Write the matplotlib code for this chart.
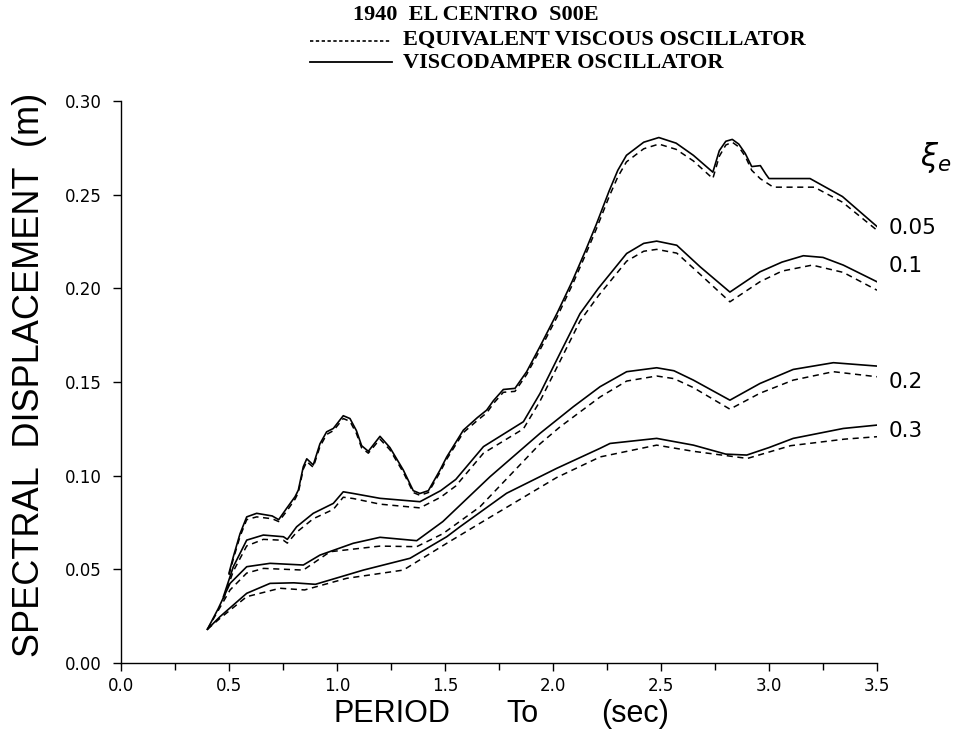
"""Spectral displacement vs period, El Centro 1940 S00E, viscodamper vs equivalent viscous."""

import matplotlib
matplotlib.use("Agg")
import matplotlib.pyplot as plt
from matplotlib.lines import Line2D
from matplotlib.ticker import MultipleLocator, FormatStrFormatter

plt.rcParams["font.family"] = ["Liberation Sans", "DejaVu Sans"]
plt.rcParams["mathtext.fontset"] = "dejavusans"

W, H = 966, 736

# --- xi_e = 0.05 ---
t_vd05 = [0.50, 0.52, 0.551, 0.582, 0.628, 0.70, 0.73, 0.767, 0.806, 0.821, 0.844, 0.86, 0.89,
          0.921, 0.952, 0.983, 1.029, 1.06, 1.09, 1.114, 1.145, 1.199, 1.245, 1.307, 1.353,
          1.384, 1.423, 1.477, 1.508, 1.585, 1.65, 1.693, 1.724, 1.77, 1.824, 1.878, 1.94,
          2.02, 2.09, 2.15, 2.20, 2.26, 2.30, 2.34, 2.42, 2.49, 2.57, 2.65, 2.74, 2.77, 2.80,
          2.83, 2.86, 2.89, 2.92, 2.96, 2.985, 3.00, 3.19, 3.34, 3.50]
sd_vd05 = [0.048, 0.0567, 0.069, 0.078, 0.0799, 0.0785, 0.0765, 0.0826, 0.0888, 0.0923, 0.1048,
           0.109, 0.1057, 0.117, 0.1234, 0.1252, 0.132, 0.1305, 0.124, 0.116, 0.113, 0.121,
           0.115, 0.103, 0.092, 0.0905, 0.092, 0.103, 0.110, 0.1243, 0.131, 0.135, 0.140,
           0.146, 0.1466, 0.1555, 0.169, 0.187, 0.204, 0.220, 0.234, 0.252, 0.263, 0.271,
           0.278, 0.2805, 0.2775, 0.271, 0.262, 0.2735, 0.2785, 0.2795, 0.277, 0.272, 0.265,
           0.2655, 0.261, 0.2586, 0.2586, 0.249, 0.233]
t_ev05 = [0.50, 0.52, 0.551, 0.582, 0.628, 0.70, 0.73, 0.767, 0.806, 0.821, 0.844, 0.86, 0.89,
          0.921, 0.952, 0.983, 1.029, 1.06, 1.09, 1.114, 1.145, 1.199, 1.245, 1.307, 1.353,
          1.384, 1.423, 1.477, 1.508, 1.585, 1.65, 1.693, 1.724, 1.77, 1.824, 1.878, 1.94,
          2.02, 2.09, 2.15, 2.20, 2.26, 2.30, 2.34, 2.42, 2.49, 2.57, 2.65, 2.74, 2.77, 2.80,
          2.83, 2.86, 2.89, 2.92, 2.96, 3.02, 3.21, 3.34, 3.50]
sd_ev05 = [0.047, 0.0555, 0.0675, 0.0765, 0.078, 0.077, 0.0755, 0.081, 0.0875, 0.091, 0.1035,
           0.1075, 0.1045, 0.1155, 0.122, 0.124, 0.1305, 0.129, 0.1225, 0.1148, 0.112, 0.1195,
           0.1138, 0.1018, 0.091, 0.0895, 0.091, 0.1018, 0.1088, 0.123, 0.1295, 0.1335, 0.1385,
           0.1445, 0.145, 0.154, 0.1672, 0.185, 0.202, 0.2178, 0.2315, 0.249, 0.2595, 0.2675,
           0.2745, 0.277, 0.2742, 0.268, 0.2586, 0.2705, 0.2765, 0.278, 0.2755, 0.2705, 0.263,
           0.2585, 0.254, 0.254, 0.246, 0.231]

# --- xi_e = 0.1 ---
t_vd10 = [0.474, 0.52, 0.582, 0.659, 0.752, 0.77, 0.813, 0.89, 0.983, 1.029, 1.075, 1.199,
          1.384, 1.48, 1.55, 1.678, 1.863, 1.94, 2.032, 2.125, 2.21, 2.341, 2.42, 2.48, 2.573,
          2.681, 2.819, 2.958, 3.06, 3.159, 3.25, 3.344, 3.50]
sd_vd10 = [0.0354, 0.0514, 0.0656, 0.0683, 0.0674, 0.066, 0.0727, 0.0799, 0.0852, 0.0914,
           0.0905, 0.0879, 0.0861, 0.092, 0.098, 0.1155, 0.1288, 0.1439, 0.1652, 0.1865, 0.200,
           0.2186, 0.224, 0.2252, 0.223, 0.2115, 0.198, 0.2088, 0.214, 0.2174, 0.2165, 0.2124,
           0.2035]
t_ev10 = [0.474, 0.52, 0.582, 0.659, 0.752, 0.77, 0.813, 0.89, 0.983, 1.029, 1.075, 1.199,
          1.384, 1.48, 1.55, 1.678, 1.863, 1.94, 2.032, 2.125, 2.21, 2.341, 2.42, 2.48, 2.573,
          2.681, 2.819, 2.958, 3.06, 3.20, 3.344, 3.50]
sd_ev10 = [0.034, 0.049, 0.0625, 0.066, 0.0655, 0.064, 0.0698, 0.077, 0.082, 0.0885, 0.0878,
           0.0848, 0.0828, 0.0885, 0.0945, 0.112, 0.125, 0.1398, 0.161, 0.1825, 0.196, 0.2145,
           0.2198, 0.2208, 0.2188, 0.2075, 0.1928, 0.2035, 0.2092, 0.2124, 0.2085, 0.199]

# --- xi_e = 0.2 ---
t_vd20 = [0.40, 0.45, 0.505, 0.582, 0.69, 0.844, 0.921, 1.075, 1.199, 1.369, 1.49, 1.708,
          1.94, 2.094, 2.218, 2.341, 2.48, 2.56, 2.65, 2.819, 2.958, 3.112, 3.298, 3.50]
sd_vd20 = [0.018, 0.029, 0.0425, 0.0514, 0.0532, 0.0523, 0.0576, 0.0639, 0.0671, 0.0653,
           0.0755, 0.0994, 0.1226, 0.1368, 0.1475, 0.1555, 0.1576, 0.156, 0.151, 0.1403,
           0.1492, 0.1567, 0.1603, 0.1585]
t_ev20 = [0.40, 0.45, 0.505, 0.582, 0.66, 0.844, 0.968, 1.199, 1.369, 1.49, 1.662, 1.94,
          2.032, 2.218, 2.341, 2.48, 2.56, 2.65, 2.819, 2.958, 3.112, 3.298, 3.50]
sd_ev20 = [0.018, 0.028, 0.039, 0.048, 0.0505, 0.0496, 0.0594, 0.0624, 0.0621, 0.069, 0.0834,
           0.117, 0.126, 0.142, 0.1505, 0.1532, 0.1518, 0.147, 0.1355, 0.144, 0.151, 0.1555,
           0.1528]

# --- xi_e = 0.3 ---
t_vd30 = [0.40, 0.458, 0.582, 0.69, 0.80, 0.90, 1.122, 1.338, 1.508, 1.569, 1.785, 2.017,
          2.218, 2.264, 2.48, 2.65, 2.80, 2.897, 3.00, 3.112, 3.344, 3.50]
sd_vd30 = [0.018, 0.0247, 0.0372, 0.0425, 0.0428, 0.042, 0.0496, 0.0559, 0.0674, 0.0727,
           0.0906, 0.1039, 0.1146, 0.1172, 0.1199, 0.1163, 0.1115, 0.111, 0.115, 0.1199,
           0.1252, 0.127]
t_ev30 = [0.40, 0.46, 0.582, 0.736, 0.85, 1.045, 1.307, 1.508, 1.662, 2.017, 2.218, 2.48,
          2.65, 2.90, 3.10, 3.35, 3.50]
sd_ev30 = [0.018, 0.024, 0.0354, 0.0399, 0.039, 0.0452, 0.0496, 0.0639, 0.0746, 0.099, 0.110,
           0.1163, 0.113, 0.1092, 0.116, 0.1195, 0.1208]

damping_labels = ["0.05", "0.1", "0.2", "0.3"]
label_y = [0.232, 0.212, 0.150, 0.124]

solid = [(t_vd05, sd_vd05), (t_vd10, sd_vd10), (t_vd20, sd_vd20), (t_vd30, sd_vd30)]
dashed = [(t_ev05, sd_ev05), (t_ev10, sd_ev10), (t_ev20, sd_ev20), (t_ev30, sd_ev30)]


def fx(px):
    return px / W


def fy(py):
    return 1 - py / H


fig = plt.figure(figsize=(W / 100, H / 100), dpi=100)
ax = fig.add_axes([fx(121), fy(663), fx(877) - fx(121), fy(101) - fy(663)])

for t, sd in solid:
    ax.plot(t, sd, color="black", lw=1.2)
for t, sd in dashed:
    ax.plot(t, sd, color="black", lw=1.1, dashes=(4, 3))

ax.set_xlim(0.0, 3.5)
ax.set_ylim(0.0, 0.30)
for s in ("top", "right"):
    ax.spines[s].set_visible(False)
for s in ("left", "bottom"):
    ax.spines[s].set_linewidth(1.0)

ax.xaxis.set_major_locator(MultipleLocator(0.5))
ax.xaxis.set_minor_locator(MultipleLocator(0.25))
ax.yaxis.set_major_locator(MultipleLocator(0.05))
ax.xaxis.set_major_formatter(FormatStrFormatter("%.1f"))
ax.yaxis.set_major_formatter(FormatStrFormatter("%.2f"))
ax.tick_params(axis="both", which="major", direction="out", length=6, width=1.0,
               labelsize=12, colors="black")
ax.tick_params(axis="x", which="minor", direction="out", length=5, width=1.0)
ax.tick_params(axis="y", pad=8)
ax.tick_params(axis="x", pad=4)
for lab in ax.get_xticklabels() + ax.get_yticklabels():
    lab.set_family(["DejaVu Sans"])

# axis titles
fig.text(fx(30), fy(375), "SPECTRAL  DISPLACEMENT  (m)", rotation=90, fontsize=26,
         ha="center", va="center")
fig.text(fx(392), fy(714), "PERIOD", fontsize=22, ha="center", va="center")
fig.text(fx(522), fy(714), "To", fontsize=22, ha="center", va="center")
fig.text(fx(635), fy(714), "(sec)", fontsize=22, ha="center", va="center")

# damping ratio labels at the right end of each curve pair
ax.text(3.77, 0.270, r"$\xi_e$", fontsize=22, ha="center", va="center", clip_on=False)
for lab, y in zip(damping_labels, label_y):
    ax.text(3.555, y, lab, fontsize=15.5, family=["DejaVu Sans"], ha="left", va="center",
            clip_on=False)

# title and line key
serif = ["Liberation Serif", "DejaVu Serif"]
fig.text(fx(353), fy(15), "1940  EL CENTRO  S00E", family=serif, fontweight="bold",
         fontsize=16, ha="left", va="center")
fig.text(fx(403), fy(40), "EQUIVALENT VISCOUS OSCILLATOR", family=serif, fontweight="bold",
         fontsize=16, ha="left", va="center")
fig.text(fx(403), fy(63), "VISCODAMPER OSCILLATOR", family=serif, fontweight="bold",
         fontsize=16, ha="left", va="center")
fig.add_artist(Line2D([fx(310), fx(390)], [fy(41), fy(41)], transform=fig.transFigure,
                      color="black", lw=1.2, dashes=(2, 1.5)))
fig.add_artist(Line2D([fx(310), fx(392)], [fy(62), fy(62)], transform=fig.transFigure,
                      color="black", lw=1.3))

fig.savefig("out.png", dpi=100)
